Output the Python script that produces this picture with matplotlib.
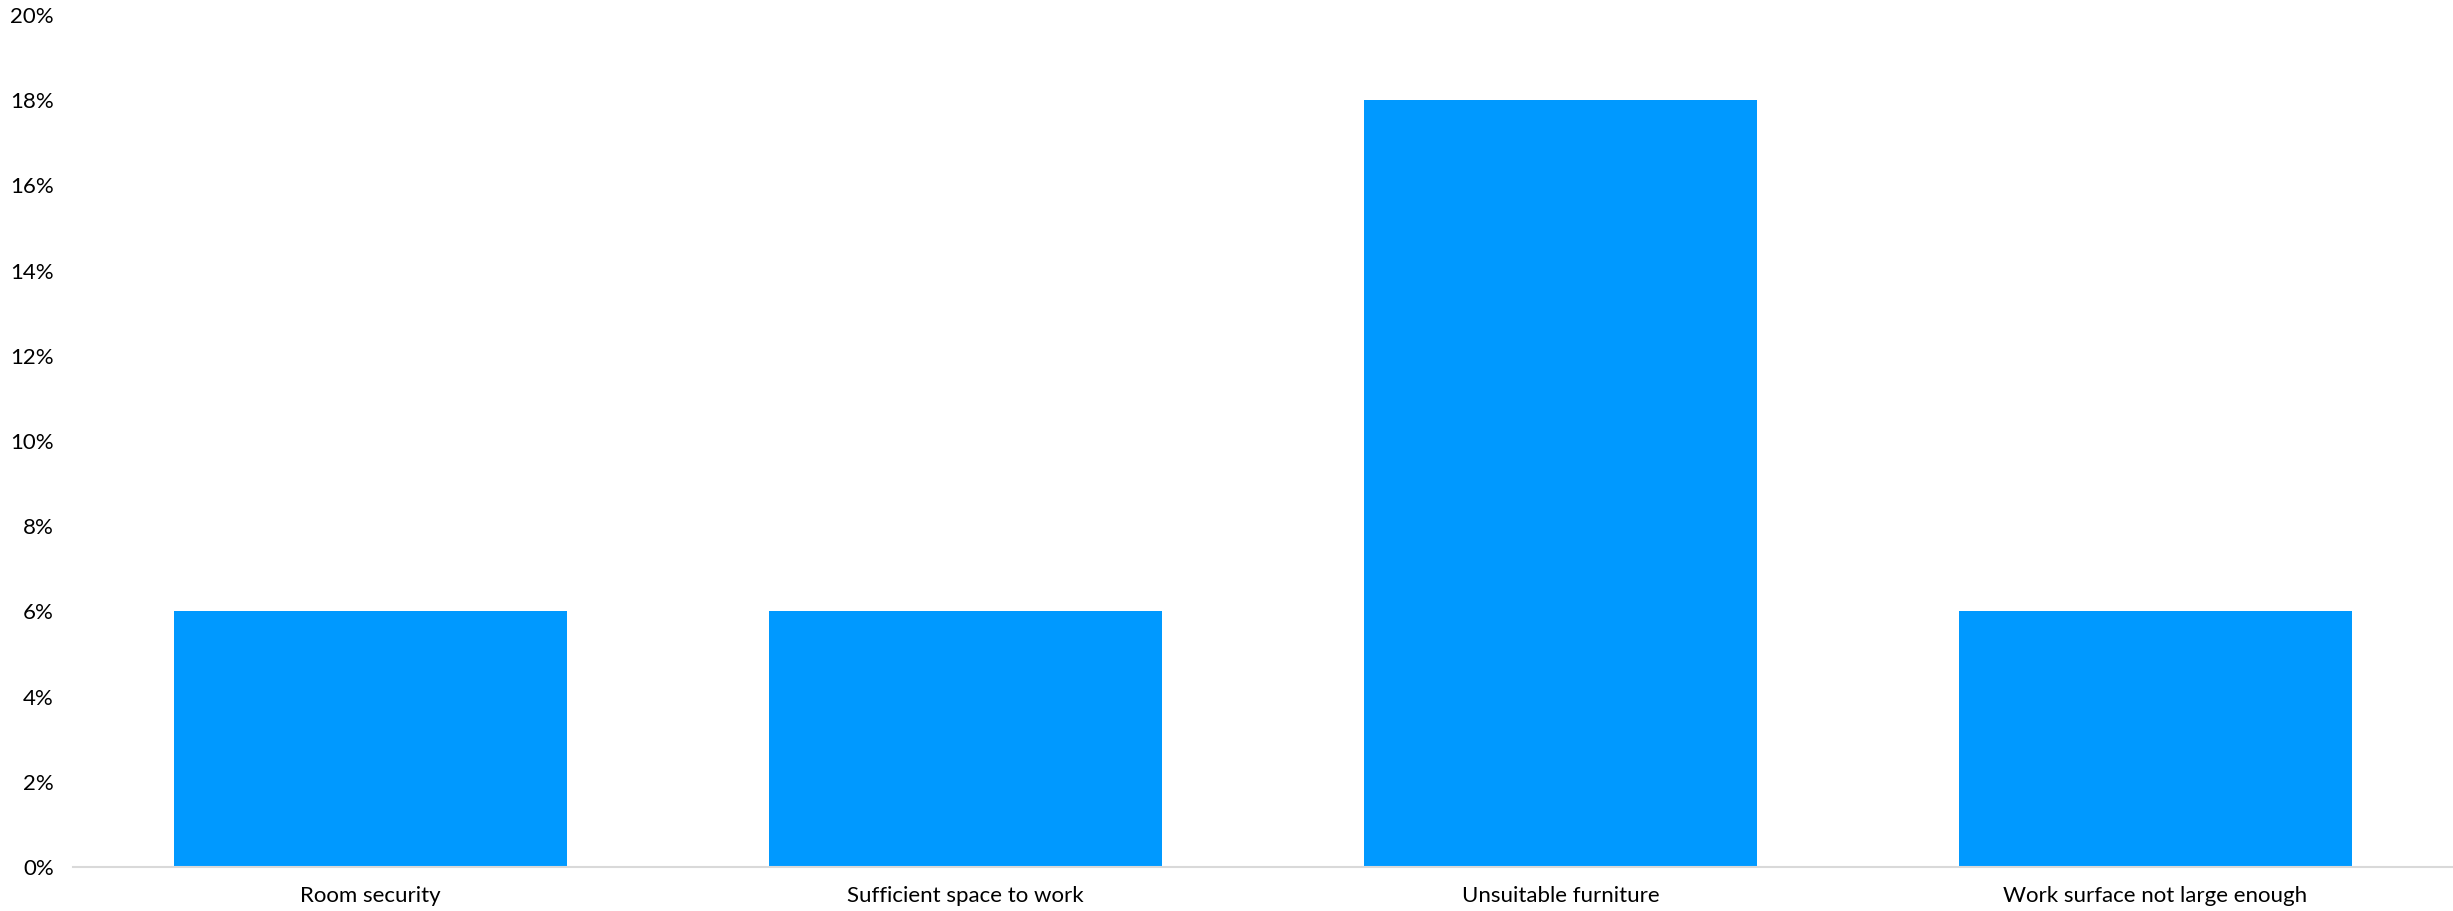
import matplotlib
matplotlib.use("Agg")
import matplotlib.pyplot as plt
from matplotlib.ticker import PercentFormatter

CATEGORIES = ["Room security", "Sufficient space to work",
              "Unsuitable furniture", "Work surface not large enough"]
VALUES = [6, 6, 18, 6]   # percent
Y_TICKS = [0, 2, 4, 6, 8, 10, 12, 14, 16, 18, 20]

BAR_COLOUR = "#0099FF"
AXIS_COLOUR = "#D9D9D9"

plt.rcParams["font.family"] = ["Lato", "DejaVu Sans"]

fig = plt.figure(figsize=(24.53, 9.11), dpi=100)
ax = fig.add_axes([0.0298, 0.0483, 0.9702, 0.9352])

x = range(len(CATEGORIES))
ax.bar(x, VALUES, width=0.66, color=BAR_COLOUR, zorder=2)

ax.set_xlim(-0.5, len(CATEGORIES) - 0.5)
ax.set_ylim(0, 20)
ax.set_yticks(Y_TICKS)
ax.yaxis.set_major_formatter(PercentFormatter(decimals=0))
ax.set_xticks(list(x))
ax.set_xticklabels(CATEGORIES)

for side in ["top", "right", "left"]:
    ax.spines[side].set_visible(False)
ax.spines["bottom"].set_color(AXIS_COLOUR)
ax.spines["bottom"].set_linewidth(1.5)

ax.tick_params(axis="y", length=0, pad=14, labelsize=16, labelcolor="#000000")
ax.tick_params(axis="x", length=0, pad=14, labelsize=16, labelcolor="#000000")

fig.savefig("out.png", dpi=100, facecolor="white")
